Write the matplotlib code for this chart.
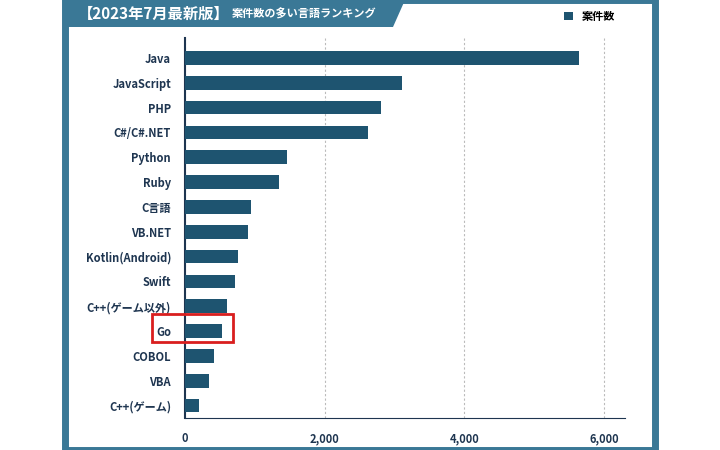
import matplotlib
matplotlib.use("Agg")
import matplotlib.pyplot as plt
from matplotlib.patches import Rectangle, Polygon

plt.rcParams["font.family"] = ["Noto Sans CJK JP"]

languages = ["Java", "JavaScript", "PHP", "C#/C#.NET", "Python", "Ruby", "C言語", "VB.NET",
             "Kotlin(Android)", "Swift", "C++(ゲーム以外)", "Go", "COBOL", "VBA", "C++(ゲーム)"]
counts = [5640, 3105, 2806, 2621, 1467, 1339, 940, 897, 755, 712, 598, 527, 413, 342, 199]
xticks = [0, 2000, 4000, 6000]
xticklabels = ["0", "2,000", "4,000", "6,000"]

teal = "#3a7896"
bar_c = "#1e5470"

fig = plt.figure(figsize=(7.2, 4.5), dpi=100)
# frame
fig.patches.append(Rectangle((65/720, 0), 590/720, 1, transform=fig.transFigure,
                             facecolor="white", edgecolor=teal, linewidth=5, zorder=-10))
fig.patches.append(Polygon([(65/720, 1), (405/720, 1), (393/720, 1-27/450), (65/720, 1-27/450)],
                           closed=True, transform=fig.transFigure, facecolor=teal, edgecolor="none", zorder=-5))
fig.text(78/720, 1-14/450, "【2023年7月最新版】", color="white", fontsize=11, fontweight="bold", va="center")
fig.text(232/720, 1-14/450, "案件数の多い言語ランキング", color="white", fontsize=8, fontweight="bold", va="center")

ax = fig.add_axes([185/720, 32/450, 440/720, 380/450])
ax.patch.set_alpha(0)
y = list(range(len(languages)))
ax.barh(y, counts, height=0.55, color=bar_c, label="案件数", zorder=3)
ax.set_yticks(y)
ax.set_yticklabels(languages, fontsize=8, fontweight="bold", color="#1e3550")
ax.set_ylim(len(languages) - 0.5, -0.8)
ax.set_xlim(0, 6300)
ax.set_xticks(xticks)
ax.set_xticklabels(xticklabels, fontsize=8, fontweight="bold", color="#1e3550")
ax.xaxis.grid(True, linestyle=(0, (2, 2)), color="#bbbbbb", linewidth=0.8, zorder=0)
for s in ["top", "right"]:
    ax.spines[s].set_visible(False)
ax.spines["left"].set_color("#1e3550")
ax.spines["bottom"].set_color("#1e3550")
ax.spines["left"].set_linewidth(1.5)
ax.tick_params(length=0, pad=10)
ax.legend(loc="upper right", bbox_to_anchor=(1.0, 1.1), frameon=False,
          prop={"weight": "bold", "size": 8}, handlelength=0.8, handleheight=0.8)
# highlight Go
fig.add_artist(Rectangle((152/720, 1-342/450), 81/720, 28/450, transform=fig.transFigure,
                         facecolor="none", edgecolor="#d91e1e", linewidth=2, zorder=10))
fig.savefig("out.png", dpi=100)
